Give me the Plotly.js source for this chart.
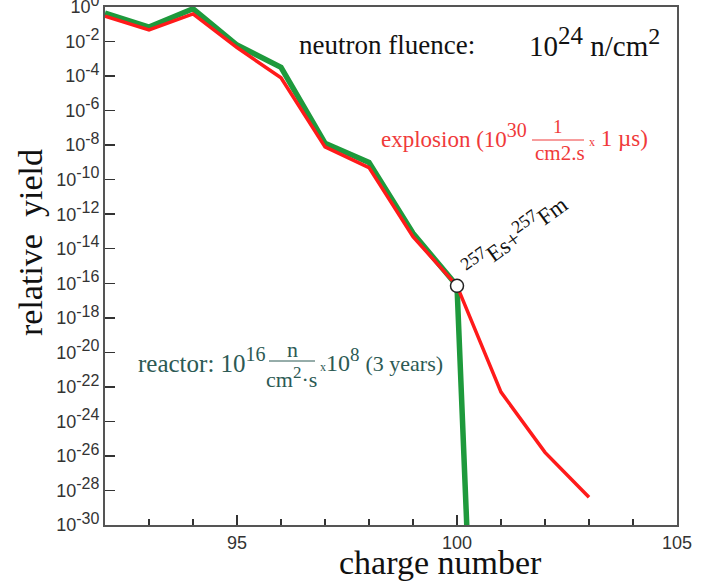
<!DOCTYPE html>
<html>
<head>
<meta charset="utf-8">
<script src="https://cdn.plot.ly/plotly-3.0.1.min.js"></script>
<style>html,body{margin:0;padding:0;background:#fff;}#chart{width:702px;height:584px;}</style>
</head>
<body>
<div id="chart"></div>
<script>
// Data
const reactorZ = [92, 93, 94, 95, 96, 97, 98, 99, 100, 100.08, 100.23];
const reactorYield = [0.45, 0.069, 0.79, 6.3e-3, 3.2e-4, 1.3e-8, 1.0e-9, 7.9e-14, 7.1e-17, 2.5e-22, 3e-31];
const explosionZ = [92, 93, 94, 95, 96, 97, 98, 99, 100, 101, 102, 103];
const explosionYield = [0.30, 0.047, 0.40, 4.5e-3, 7.9e-5, 7.9e-9, 5.0e-10, 5.0e-14, 7.1e-17, 5.0e-23, 1.6e-26, 4.0e-29];
const markZ = [100];
const markYield = [7.1e-17];
const yTickVals = [1, 1e-2, 1e-4, 1e-6, 1e-8, 1e-10, 1e-12, 1e-14, 1e-16, 1e-18, 1e-20, 1e-22, 1e-24, 1e-26, 1e-28, 1e-30];
const yTickExp = ['0', '-2', '-4', '-6', '-8', '-10', '-12', '-14', '-16', '-18', '-20', '-22', '-24', '-26', '-28', '-30'];
const xTickVals = [95, 100, 105];
const xTickText = ['95', '100', '105'];

const SERIF = 'Liberation Serif, Times New Roman, serif';
const SANS = 'Liberation Sans, Arial, sans-serif';
const RED = '#ff1a1a';
const GREEN = '#1e9a3c';
const TEAL = '#2c5a54';
const RTXT = '#f03a3a';

const yTickText = yTickExp.map(e => '10<sup><span style="font-size:16px">' + e + '</span></sup>');

const traces = [
  {x: reactorZ, y: reactorYield, mode: 'lines', line: {color: GREEN, width: 5.5}, hoverinfo: 'skip'},
  {x: explosionZ, y: explosionYield, mode: 'lines', line: {color: RED, width: 3.5}, hoverinfo: 'skip'},
  {x: markZ, y: markYield, mode: 'markers', marker: {size: 13, color: '#ffffff', line: {color: '#222', width: 1.5}}, hoverinfo: 'skip', cliponaxis: false}
];

function px(x){ return (x - 105) / 572; }
function py(y){ return (525 - y) / 518; }

const ann = (text, x, y, opts) => Object.assign({text, x: px(x), y: py(y), xref: 'paper', yref: 'paper', showarrow: false, xanchor: 'center', yanchor: 'middle'}, opts);

const layout = {
  width: 702, height: 584,
  margin: {l: 105, r: 25, t: 7, b: 59},
  paper_bgcolor: '#fff', plot_bgcolor: '#fff',
  showlegend: false,
  xaxis: {
    range: [92, 105], tickmode: 'array', tickvals: xTickVals, ticktext: xTickText,
    ticks: 'inside', ticklen: 10, tickwidth: 1.5, tickcolor: '#333',
    minor: {tickmode: 'linear', tick0: 92, dtick: 1, ticks: 'inside', ticklen: 6, tickwidth: 1.5, tickcolor: '#333'},
    showline: true, linecolor: '#555', linewidth: 2, mirror: true,
    showgrid: false, zeroline: false,
    tickfont: {family: SANS, size: 18, color: '#333'}
  },
  yaxis: {
    type: 'log', range: [-30.001, 0.001], tickmode: 'array', tickvals: yTickVals, ticktext: yTickText,
    ticks: 'inside', ticklen: 10, tickwidth: 1.5, tickcolor: '#333',
    showline: true, linecolor: '#555', linewidth: 2, mirror: true,
    showgrid: false, zeroline: false, ticklabeloverflow: 'allow',
    tickfont: {family: SANS, size: 18, color: '#333'}
  },
  shapes: [
    {type: 'line', xref: 'paper', yref: 'paper', x0: px(532), x1: px(584), y0: py(140), y1: py(140), line: {color: RTXT, width: 1}},
    {type: 'line', xref: 'paper', yref: 'paper', x0: px(269), x1: px(315), y0: py(361), y1: py(361), line: {color: TEAL, width: 1}}
  ],
  annotations: [
    ann('neutron fluence:', 297, 45, {xanchor: 'left', font: {family: SERIF, size: 27, color: '#111'}}),
    ann('10<sup><span style="font-size:25px">24</span></sup> n/cm<sup><span style="font-size:24px">2</span></sup>', 662, 42, {xanchor: 'right', font: {family: SERIF, size: 29, color: '#111'}}),
    ann('explosion (10<sup><span style="font-size:20px">30</span></sup>', 529, 136, {xanchor: 'right', font: {family: SERIF, size: 23, color: RTXT}}),
    ann('1', 558, 127, {font: {family: SERIF, size: 19, color: RTXT}}),
    ann('cm2.s', 560, 153, {font: {family: SERIF, size: 21, color: RTXT}}),
    ann('<span style="font-size:12px">x</span> 1 µs)', 587, 138, {xanchor: 'left', font: {family: SERIF, size: 23, color: RTXT}}),
    ann('reactor: 10<sup><span style="font-size:20px">16</span></sup>', 268, 360, {xanchor: 'right', font: {family: SERIF, size: 25, color: TEAL}}),
    ann('n', 292, 349, {font: {family: SERIF, size: 22, color: TEAL}}),
    ann('cm<sup><span style="font-size:17px">2</span></sup>·s', 291, 377, {font: {family: SERIF, size: 22, color: TEAL}}),
    ann('<span style="font-size:12px">x</span>10<sup><span style="font-size:19px">8</span></sup> <span style="font-size:22px">(3 years)</span>', 318, 360, {xanchor: 'left', font: {family: SERIF, size: 24, color: TEAL}}),
    ann('<sup><span style="font-size:18px">257</span></sup>Es+<sup><span style="font-size:18px">257</span></sup>Fm', 514, 235, {textangle: -36, font: {family: SERIF, size: 23, color: '#111'}}),
    ann('charge number', 440, 562, {font: {family: SERIF, size: 34, color: '#111'}}),
    ann('relative&nbsp;&nbsp;yield', 30, 243, {textangle: -90, font: {family: SERIF, size: 34, color: '#111'}})
  ]
};

Plotly.newPlot('chart', traces, layout, {staticPlot: true, displayModeBar: false});
</script>
</body>
</html>
